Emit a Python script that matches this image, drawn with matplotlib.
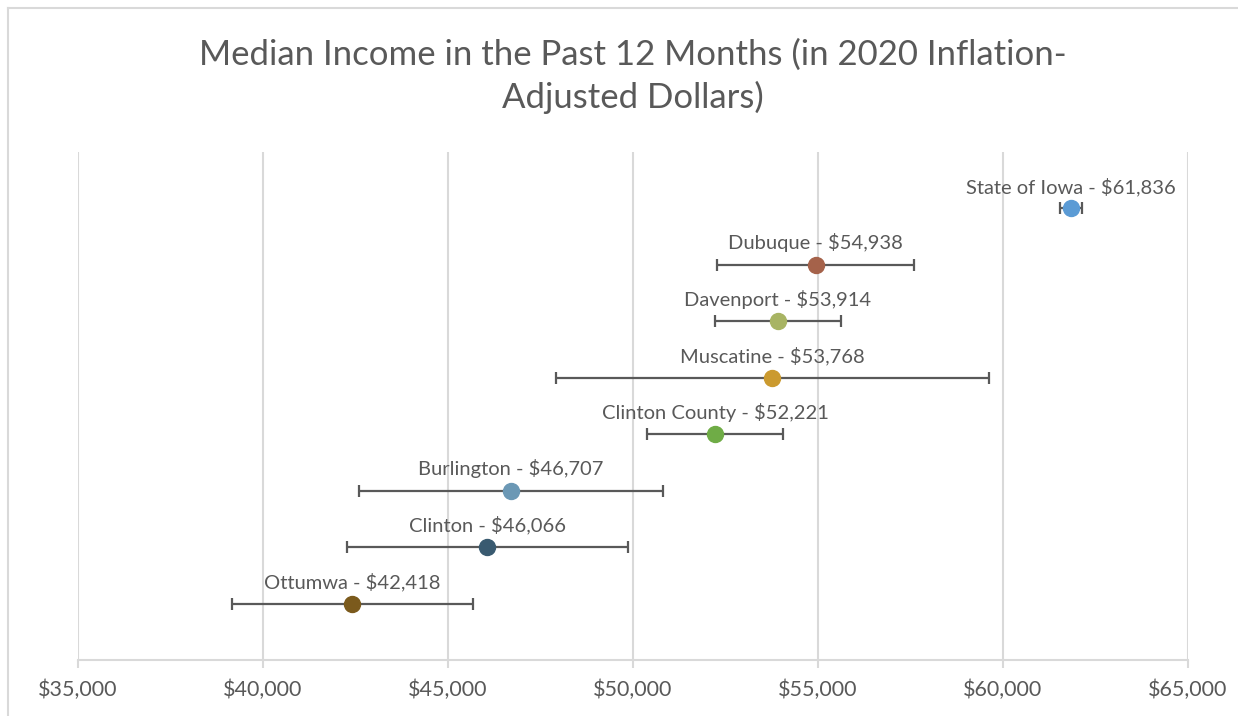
import matplotlib.pyplot as plt
from matplotlib.lines import Line2D
from matplotlib.ticker import FuncFormatter

# ── Data ─────────────────────────────────────────────────────────────
places = ['Ottumwa', 'Clinton', 'Burlington', 'Clinton County',
          'Muscatine', 'Davenport', 'Dubuque', 'State of Iowa']
median_income = [42418, 46066, 46707, 52221, 53768, 53914, 54938, 61836]
margin_of_error = [3250, 3790, 4100, 1830, 5850, 1710, 2670, 300]
point_colors = ['#7B5A1C', '#395A70', '#6B98B5', '#6FAC46',
                '#CB9A2F', '#A8B463', '#A5624A', '#5B9BD5']
x_ticks = [35000, 40000, 45000, 50000, 55000, 60000, 65000]

TEXT = '#595959'
GRID = '#D9D9D9'
plt.rcParams['font.family'] = ['Lato', 'DejaVu Sans']

fig = plt.figure(figsize=(12.38, 7.16), dpi=100)
ax = fig.add_axes((78 / 1238, 1 - 660 / 716, 1110 / 1238, 508 / 716))

for i, (name, val, err, col) in enumerate(zip(places, median_income,
                                               margin_of_error, point_colors)):
    y = i + 1
    ax.errorbar(val, y, xerr=err, fmt='none', ecolor='#595959',
                elinewidth=1.6, capsize=4.5, capthick=1.6, zorder=3)
    ax.plot(val, y, 'o', ms=11.5, color=col, mec=col, zorder=4)
    ax.annotate(f'{name} - ${val:,.0f}', (val, y), xytext=(0, 9),
                textcoords='offset points', ha='center', va='bottom',
                fontsize=14.5, color=TEXT)

ax.set_xlim(35000, 65000)
ax.set_ylim(0, 9)
ax.set_xticks(x_ticks)
ax.xaxis.set_major_formatter(FuncFormatter(lambda v, _: f'${v:,.0f}'))
ax.set_yticks([])
ax.grid(axis='x', color=GRID, linewidth=1.5)
ax.set_axisbelow(True)
for side in ('top', 'right', 'left'):
    ax.spines[side].set_visible(False)
ax.spines['bottom'].set_color(GRID)
ax.spines['bottom'].set_linewidth(1.5)
ax.tick_params(axis='x', colors=GRID, length=6, width=1.5, pad=8,
               labelcolor=TEXT, labelsize=15.5)

fig.text(633 / 1238, 1 - 76 / 716,
         'Median Income in the Past 12 Months (in 2020 Inflation-\nAdjusted Dollars)',
         ha='center', va='center', fontsize=25, color=TEXT, linespacing=1.38)

# chart-area frame (left and top edges visible)
fig.add_artist(Line2D([8 / 1238, 8 / 1238], [0, 1 - 8 / 716],
                      transform=fig.transFigure, color=GRID, lw=1.5))
fig.add_artist(Line2D([8 / 1238, 1], [1 - 8 / 716, 1 - 8 / 716],
                      transform=fig.transFigure, color=GRID, lw=1.5))

fig.savefig('out.png', dpi=100)
